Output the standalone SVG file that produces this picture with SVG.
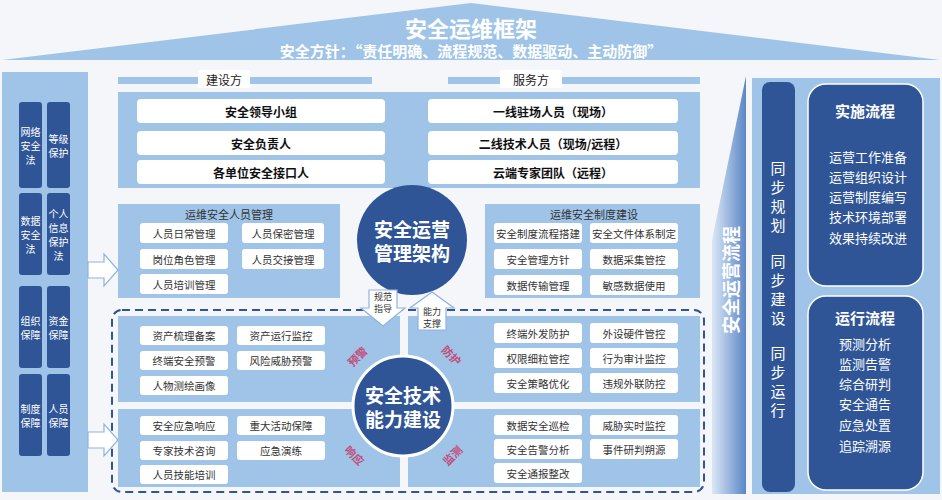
<svg xmlns="http://www.w3.org/2000/svg" width="942" height="500" viewBox="0 0 942 500">
<style>
text{font-family:"Noto Sans CJK SC","Liberation Sans",sans-serif;text-anchor:middle;dominant-baseline:central}
.lb{fill:#9fc4e8}
.dk{fill:#2f5597}
.pill{fill:#fff}
.pt{font-size:10.5px;fill:#333}
.bt{font-size:12px;fill:#111;font-weight:bold}
.wt{fill:#fff}
.pk{font-size:11px;fill:#c24d7c;font-weight:bold}
.arw{fill:#fff;stroke:#8fb4dc;stroke-width:1.2}
</style>
<defs>
<linearGradient id="g1" x1="0" y1="0" x2="1" y2="0"><stop offset="0" stop-color="#dbe8f6"/><stop offset="1" stop-color="#5b86c6"/></linearGradient>
</defs>
<rect width="942" height="500" fill="#f4f6f9"/>
<g id="roof">
<polygon points="471,3 940,60 2,60" class="lb"/>
<text x="471" y="27" class="wt" font-size="22" font-weight="bold">安全运维框架</text>
<text x="471" y="50" class="wt" font-size="15" font-weight="bold">安全方针：“责任明确、流程规范、数据驱动、主动防御”</text>
</g>
<g id="left-laws">
<rect x="2" y="72" width="86" height="420" class="lb"/>
<rect x="19" y="102" width="23" height="86" rx="3" class="dk"/><rect x="47" y="102" width="23" height="86" rx="3" class="dk"/>
<rect x="19" y="193" width="23" height="82" rx="3" class="dk"/><rect x="47" y="193" width="23" height="82" rx="3" class="dk"/>
<rect x="19" y="286" width="23" height="82" rx="3" class="dk"/><rect x="47" y="286" width="23" height="82" rx="3" class="dk"/>
<rect x="19" y="374" width="23" height="82" rx="3" class="dk"/><rect x="47" y="374" width="23" height="82" rx="3" class="dk"/>
<g class="wt" font-size="10">
<text x="30.5" y="131">网络</text><text x="30.5" y="145">安全</text><text x="30.5" y="159">法</text>
<text x="58.5" y="138">等级</text><text x="58.5" y="152">保护</text>
<text x="30.5" y="220">数据</text><text x="30.5" y="234">安全</text><text x="30.5" y="248">法</text>
<text x="58.5" y="213">个人</text><text x="58.5" y="227">信息</text><text x="58.5" y="241">保护</text><text x="58.5" y="255">法</text>
<text x="30.5" y="320">组织</text><text x="30.5" y="334">保障</text>
<text x="58.5" y="320">资金</text><text x="58.5" y="334">保障</text>
<text x="30.5" y="408">制度</text><text x="30.5" y="422">保障</text>
<text x="58.5" y="408">人员</text><text x="58.5" y="422">保障</text>
</g>
</g>
<g id="parties">
<rect x="118" y="77" width="254" height="7" class="lb"/><rect x="448" y="77" width="252" height="7" class="lb"/>
<rect x="198" y="70" width="52" height="18" fill="#fff"/><text x="224" y="79" font-size="12" fill="#222">建设方</text>
<rect x="500" y="70" width="62" height="18" fill="#fff"/><text x="531" y="79" font-size="12" fill="#222">服务方</text>
<rect x="118" y="92" width="582" height="96" class="lb"/>
<rect x="137" y="99" width="248" height="24" rx="4" class="pill"/><text x="261" y="111" class="bt">安全领导小组</text>
<rect x="137" y="131" width="248" height="24" rx="4" class="pill"/><text x="261" y="143" class="bt">安全负责人</text>
<rect x="137" y="160" width="248" height="24" rx="4" class="pill"/><text x="261" y="172" class="bt">各单位安全接口人</text>
<rect x="428" y="99" width="250" height="24" rx="4" class="pill"/><text x="553" y="111" class="bt">一线驻场人员（现场）</text>
<rect x="428" y="131" width="250" height="24" rx="4" class="pill"/><text x="553" y="143" class="bt">二线技术人员（现场/远程）</text>
<rect x="428" y="160" width="250" height="24" rx="4" class="pill"/><text x="553" y="172" class="bt">云端专家团队（远程）</text>
</g>
<g id="mgmt-left">
<rect x="118" y="204" width="222" height="94" class="lb"/>
<text x="229" y="214" font-size="11" fill="#333">运维安全人员管理</text>
<rect x="140" y="223" width="88" height="20" rx="3" class="pill"/><text x="184" y="233" class="pt">人员日常管理</text>
<rect x="242" y="223" width="82" height="20" rx="3" class="pill"/><text x="283" y="233" class="pt">人员保密管理</text>
<rect x="140" y="249" width="88" height="20" rx="3" class="pill"/><text x="184" y="259" class="pt">岗位角色管理</text>
<rect x="242" y="249" width="82" height="20" rx="3" class="pill"/><text x="283" y="259" class="pt">人员交接管理</text>
<rect x="140" y="274" width="88" height="20" rx="3" class="pill"/><text x="184" y="284" class="pt">人员培训管理</text>
</g>
<g id="mgmt-right">
<rect x="485" y="204" width="215" height="94" class="lb"/>
<text x="594" y="214" font-size="11" fill="#333">运维安全制度建设</text>
<rect x="494" y="223" width="88" height="20" rx="3" class="pill"/><text x="538" y="233" class="pt">安全制度流程搭建</text>
<rect x="590" y="223" width="88" height="20" rx="3" class="pill"/><text x="634" y="233" class="pt">安全文件体系制定</text>
<rect x="494" y="249" width="88" height="20" rx="3" class="pill"/><text x="538" y="259" class="pt">安全管理方针</text>
<rect x="590" y="249" width="88" height="20" rx="3" class="pill"/><text x="634" y="259" class="pt">数据采集管控</text>
<rect x="494" y="275" width="88" height="20" rx="3" class="pill"/><text x="538" y="285" class="pt">数据传输管理</text>
<rect x="590" y="275" width="88" height="20" rx="3" class="pill"/><text x="634" y="285" class="pt">敏感数据使用</text>
</g>
<g id="mgmt-circle">
<circle cx="412" cy="240" r="55" class="dk"/>
<text x="412" y="228" class="wt" font-size="19" font-weight="bold">安全运营</text>
<text x="412" y="252" class="wt" font-size="19" font-weight="bold">管理架构</text>
</g>
<g id="tech">
<rect x="112" y="310" width="592" height="182" rx="10" fill="none" stroke="#2f5597" stroke-width="2" stroke-dasharray="8,5"/>
<rect x="118" y="316" width="282" height="86" class="lb"/>
<rect x="118" y="409" width="282" height="78" class="lb"/>
<rect x="408" y="316" width="292" height="86" class="lb"/>
<rect x="408" y="409" width="292" height="78" class="lb"/>
<rect x="140" y="326" width="88" height="19" rx="3" class="pill"/><text x="184" y="335.5" class="pt">资产梳理备案</text>
<rect x="237" y="326" width="88" height="19" rx="3" class="pill"/><text x="281" y="335.5" class="pt">资产运行监控</text>
<rect x="140" y="351" width="88" height="19" rx="3" class="pill"/><text x="184" y="360.5" class="pt">终端安全预警</text>
<rect x="237" y="351" width="88" height="19" rx="3" class="pill"/><text x="281" y="360.5" class="pt">风险威胁预警</text>
<rect x="140" y="376" width="88" height="19" rx="3" class="pill"/><text x="184" y="385.5" class="pt">人物测绘画像</text>
<rect x="140" y="416" width="88" height="19" rx="3" class="pill"/><text x="184" y="425.5" class="pt">安全应急响应</text>
<rect x="237" y="416" width="88" height="19" rx="3" class="pill"/><text x="281" y="425.5" class="pt">重大活动保障</text>
<rect x="140" y="441" width="88" height="19" rx="3" class="pill"/><text x="184" y="450.5" class="pt">专家技术咨询</text>
<rect x="237" y="441" width="88" height="19" rx="3" class="pill"/><text x="281" y="450.5" class="pt">应急演练</text>
<rect x="140" y="465" width="88" height="19" rx="3" class="pill"/><text x="184" y="474.5" class="pt">人员技能培训</text>
<rect x="494" y="323" width="88" height="20" rx="3" class="pill"/><text x="538" y="333" class="pt">终端外发防护</text>
<rect x="590" y="323" width="88" height="20" rx="3" class="pill"/><text x="634" y="333" class="pt">外设硬件管控</text>
<rect x="494" y="348" width="88" height="20" rx="3" class="pill"/><text x="538" y="358" class="pt">权限细粒管控</text>
<rect x="590" y="348" width="88" height="20" rx="3" class="pill"/><text x="634" y="358" class="pt">行为审计监控</text>
<rect x="494" y="373" width="88" height="20" rx="3" class="pill"/><text x="538" y="383" class="pt">安全策略优化</text>
<rect x="590" y="373" width="88" height="20" rx="3" class="pill"/><text x="634" y="383" class="pt">违规外联防控</text>
<rect x="494" y="415" width="88" height="20" rx="3" class="pill"/><text x="538" y="425" class="pt">数据安全巡检</text>
<rect x="590" y="415" width="88" height="20" rx="3" class="pill"/><text x="634" y="425" class="pt">威胁实时监控</text>
<rect x="494" y="439" width="88" height="20" rx="3" class="pill"/><text x="538" y="449" class="pt">安全告警分析</text>
<rect x="590" y="439" width="88" height="20" rx="3" class="pill"/><text x="634" y="449" class="pt">事件研判朔源</text>
<rect x="494" y="463" width="88" height="20" rx="3" class="pill"/><text x="538" y="473" class="pt">安全通报整改</text>
<circle cx="403" cy="406" r="50" class="dk" stroke="#fff" stroke-width="3"/>
<text x="403" y="394" class="wt" font-size="19" font-weight="bold">安全技术</text>
<text x="403" y="418" class="wt" font-size="19" font-weight="bold">能力建设</text>
<text x="357" y="356" class="pk" transform="rotate(-45 357 356)">预警</text>
<text x="452" y="355" class="pk" transform="rotate(45 452 355)">防护</text>
<text x="355" y="455" class="pk" transform="rotate(45 355 455)">响应</text>
<text x="452" y="455" class="pk" transform="rotate(-45 452 455)">监测</text>
</g>
<g id="connectors">
<polygon class="arw" points="369,290 397,290 397,308 405,308 383,326 361,308 369,308"/>
<polygon class="arw" points="418,330 446,330 446,308 454,308 432,292 410,308 418,308"/>
<polygon class="arw" points="88,262 104,262 104,254 118,270 104,286 104,278 88,278"/>
<polygon class="arw" points="88,432 104,432 104,424 118,440 104,456 104,448 88,448"/>
<text x="383" y="296" font-size="9" fill="#333">规范</text><text x="383" y="308" font-size="9" fill="#333">指导</text>
<text x="432" y="311" font-size="9" fill="#333">能力</text><text x="432" y="323" font-size="9" fill="#333">支撑</text>
</g>
<g id="process-label">
<polygon points="746,76 746,494 712,494 712,240" fill="url(#g1)"/>
<text x="730" y="280" class="wt" font-size="18" font-weight="bold" transform="rotate(-90 730 280)">安全运营流程</text>
</g>
<g id="process">
<rect x="752" y="78" width="188" height="416" class="lb"/>
<rect x="762" y="82" width="33" height="410" rx="8" class="dk"/>
<g class="wt" font-size="15">
<text x="778" y="167">同</text><text x="778" y="186">步</text><text x="778" y="205">规</text><text x="778" y="224">划</text>
<text x="778" y="260">同</text><text x="778" y="279">步</text><text x="778" y="298">建</text><text x="778" y="317">设</text>
<text x="778" y="352">同</text><text x="778" y="371">步</text><text x="778" y="390">运</text><text x="778" y="409">行</text>
</g>
<rect x="808" y="84" width="115" height="202" rx="18" class="dk" stroke="#fff" stroke-width="1.5"/>
<text x="865" y="110" class="wt" font-size="15" font-weight="bold">实施流程</text>
<g class="wt" font-size="13">
<text x="868" y="156">运营工作准备</text><text x="868" y="176">运营组织设计</text><text x="868" y="196">运营制度编写</text><text x="868" y="216">技术环境部署</text><text x="868" y="237">效果持续改进</text>
</g>
<rect x="808" y="296" width="115" height="194" rx="18" class="dk" stroke="#fff" stroke-width="1.5"/>
<text x="865" y="317" class="wt" font-size="15" font-weight="bold">运行流程</text>
<g class="wt" font-size="13">
<text x="865" y="343">预测分析</text><text x="865" y="363">监测告警</text><text x="865" y="383">综合研判</text><text x="865" y="403">安全通告</text><text x="865" y="424">应急处置</text><text x="865" y="445">追踪溯源</text>
</g>
</g>
</svg>
